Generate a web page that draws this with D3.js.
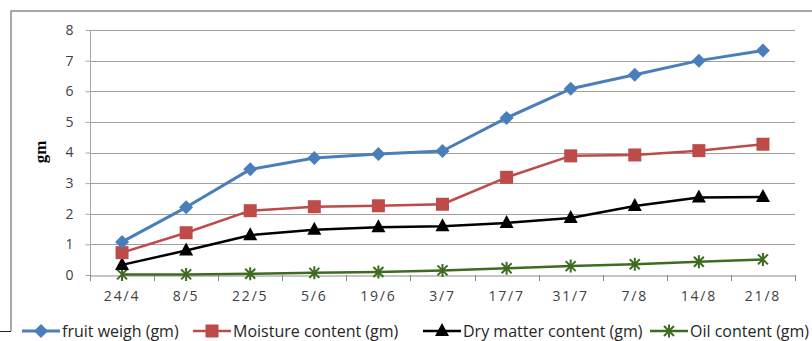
<!DOCTYPE html>
<html><head><meta charset="utf-8">
<script src="https://cdn.jsdelivr.net/npm/d3@7"></script>
<style>body{margin:0;background:#fff;}svg{display:block;}</style>
</head><body>
<script>
const categories = ["24/4","8/5","22/5","5/6","19/6","3/7","17/7","31/7","7/8","14/8","21/8"];
const fruitWeigh = [1.08,2.21,3.45,3.82,3.95,4.05,5.13,6.08,6.54,7.0,7.33];
const moisture   = [0.73,1.38,2.10,2.23,2.26,2.31,3.19,3.89,3.92,4.06,4.27];
const dryMatter  = [0.33,0.80,1.30,1.48,1.56,1.59,1.70,1.86,2.25,2.53,2.55];
const oil        = [0.02,0.02,0.04,0.07,0.10,0.15,0.22,0.29,0.35,0.43,0.51];
const yTicks = [0,1,2,3,4,5,6,7,8];
const seriesNames = ["fruit weigh (gm)","Moisture content (gm)","Dry matter content (gm)","Oil content (gm)"];

const W=812,H=341;
const svg=d3.select("body").append("svg").attr("width",W).attr("height",H);
const x=d3.scaleBand().domain(categories).range([90,795]);
const y=d3.scaleLinear().domain([0,8]).range([275,30]);

// outer border
svg.append("path").attr("d","M11,331 L11,11 L812,11").attr("fill","none").attr("stroke","#8c8c8c").attr("stroke-width",1.5);
svg.append("line").attr("x1",0).attr("x2",11).attr("y1",331.5).attr("y2",331.5).attr("stroke","#222").attr("stroke-width",1);

// gridlines
svg.append("g").selectAll("line").data(yTicks.filter(d=>d>0)).join("line")
 .attr("x1",90).attr("x2",795).attr("y1",d=>Math.round(y(d))+0.5).attr("y2",d=>Math.round(y(d))+0.5)
 .attr("stroke","#a0a0a0").attr("stroke-width",1.2);

// y axis
const yAx=svg.append("g").attr("transform","translate(90.5,0)")
 .call(d3.axisLeft(y).tickValues(yTicks).tickSize(5).tickPadding(12).tickFormat(d3.format("d")));
yAx.select(".domain").attr("stroke","#a6a6a6").attr("d","M0,30V275.5");
yAx.selectAll(".tick line").attr("stroke","#a6a6a6");
yAx.selectAll("text").attr("font-family","'Open Sans',sans-serif").attr("font-size",14).attr("fill","#404040");

// x axis
const xAx=svg.append("g").attr("transform","translate(0,275.5)")
 .call(d3.axisBottom(x).tickSize(0).tickPadding(16));
xAx.select(".domain").attr("stroke","#8c8c8c");
xAx.selectAll("text").attr("font-family","'Open Sans',sans-serif").attr("font-size",14).attr("fill","#404040").attr("letter-spacing","1.8px");
// boundary ticks
const bounds=categories.map(c=>x(c)).concat([x.range()[1]]);
svg.append("g").selectAll("line").data(bounds).join("line")
 .attr("x1",d=>Math.round(d)+0.5).attr("x2",d=>Math.round(d)+0.5).attr("y1",275).attr("y2",281)
 .attr("stroke","#8c8c8c");

// y label
svg.append("text").attr("transform","translate(46,152) rotate(-90)").attr("text-anchor","middle")
 .attr("font-family","'Liberation Serif',serif").attr("font-weight","bold").attr("font-size",17).attr("fill","#000").text("gm");

const cx=c=>x(c)+x.bandwidth()/2;
const line=d3.line().x((d,i)=>cx(categories[i])).y(d=>y(d));
const series=[
 {name:seriesNames[0],data:fruitWeigh,color:"#4a7ebb",w:3,m:"diamond"},
 {name:seriesNames[1],data:moisture,color:"#be4b48",w:2.5,m:"square"},
 {name:seriesNames[2],data:dryMatter,color:"#000000",w:2.5,m:"triangle"},
 {name:seriesNames[3],data:oil,color:"#3e6b22",w:2.5,m:"star"}
];
function marker(g,type,color){
 if(type==="diamond") g.append("path").attr("d","M0,-7L7,0L0,7L-7,0Z").attr("fill",color);
 else if(type==="square") g.append("rect").attr("x",-6.5).attr("y",-6.5).attr("width",13).attr("height",13).attr("fill",color);
 else if(type==="triangle") g.append("path").attr("d","M0,-8L7,5L-7,5Z").attr("fill",color);
 else { g.append("path").attr("d","M-5,-5L5,5M-5,5L5,-5M0,-6.5L0,6.5").attr("stroke",color).attr("stroke-width",2).attr("fill","none"); }
}
series.slice().reverse().forEach(s=>{
 svg.append("path").datum(s.data).attr("d",line).attr("fill","none").attr("stroke",s.color).attr("stroke-width",s.w).attr("stroke-linejoin","round");
 s.data.forEach((v,i)=>{ const g=svg.append("g").attr("transform",`translate(${cx(categories[i])},${y(v)})`); marker(g,s.m,s.color); });
});

// legend
const legX=[22,193,423,650];
series.forEach((s,i)=>{
 const lx=legX[i], ly=331;
 svg.append("line").attr("x1",lx).attr("x2",lx+38).attr("y1",ly).attr("y2",ly).attr("stroke",s.color).attr("stroke-width",s.w);
 const g=svg.append("g").attr("transform",`translate(${lx+19},${ly})`); marker(g,s.m,s.color);
 svg.append("text").attr("x",lx+40).attr("y",ly+5.5).attr("font-family","'Open Sans',sans-serif").attr("font-size",16).attr("fill","#262626").text(s.name);
});
</script>
</body></html>
